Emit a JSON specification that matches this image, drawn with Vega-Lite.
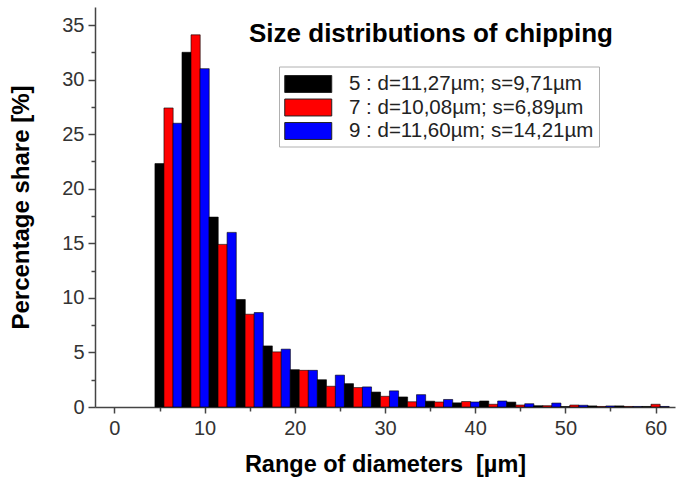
{
  "$schema": "https://vega.github.io/schema/vega-lite/v6.json",
  "width": 580,
  "height": 400,
  "autosize": {"type": "none"},
  "padding": {"left": 95, "top": 7, "right": 2, "bottom": 81},
  "background": "white",
  "config": {"view": {"stroke": null}, "font": "Liberation Sans"},
  "title": {
    "text": "Size distributions of chipping",
    "anchor": "middle",
    "dx": 46,
    "offset": -40,
    "fontSize": 26,
    "fontWeight": "bold",
    "color": "#000000",
    "font": "Liberation Sans"
  },
  "data": {
    "values": [
      {"d": 5, "sample": "5 : d=11,27µm; s=9,71µm", "share": 22.3},
      {"d": 6, "sample": "7 : d=10,08µm; s=6,89µm", "share": 27.4},
      {"d": 7, "sample": "9 : d=11,60µm; s=14,21µm", "share": 26.0},
      {"d": 8, "sample": "5 : d=11,27µm; s=9,71µm", "share": 32.5},
      {"d": 9, "sample": "7 : d=10,08µm; s=6,89µm", "share": 34.1},
      {"d": 10, "sample": "9 : d=11,60µm; s=14,21µm", "share": 31.0},
      {"d": 11, "sample": "5 : d=11,27µm; s=9,71µm", "share": 17.4},
      {"d": 12, "sample": "7 : d=10,08µm; s=6,89µm", "share": 14.9},
      {"d": 13, "sample": "9 : d=11,60µm; s=14,21µm", "share": 16.0},
      {"d": 14, "sample": "5 : d=11,27µm; s=9,71µm", "share": 9.85},
      {"d": 15, "sample": "7 : d=10,08µm; s=6,89µm", "share": 8.5},
      {"d": 16, "sample": "9 : d=11,60µm; s=14,21µm", "share": 8.65},
      {"d": 17, "sample": "5 : d=11,27µm; s=9,71µm", "share": 5.6},
      {"d": 18, "sample": "7 : d=10,08µm; s=6,89µm", "share": 5.05},
      {"d": 19, "sample": "9 : d=11,60µm; s=14,21µm", "share": 5.3},
      {"d": 20, "sample": "5 : d=11,27µm; s=9,71µm", "share": 3.42},
      {"d": 21, "sample": "7 : d=10,08µm; s=6,89µm", "share": 3.36},
      {"d": 22, "sample": "9 : d=11,60µm; s=14,21µm", "share": 3.36},
      {"d": 23, "sample": "5 : d=11,27µm; s=9,71µm", "share": 2.5},
      {"d": 24, "sample": "7 : d=10,08µm; s=6,89µm", "share": 1.9},
      {"d": 25, "sample": "9 : d=11,60µm; s=14,21µm", "share": 2.92},
      {"d": 26, "sample": "5 : d=11,27µm; s=9,71µm", "share": 2.14},
      {"d": 27, "sample": "7 : d=10,08µm; s=6,89µm", "share": 1.78},
      {"d": 28, "sample": "9 : d=11,60µm; s=14,21µm", "share": 1.84},
      {"d": 29, "sample": "5 : d=11,27µm; s=9,71µm", "share": 1.37},
      {"d": 30, "sample": "7 : d=10,08µm; s=6,89µm", "share": 0.98},
      {"d": 31, "sample": "9 : d=11,60µm; s=14,21µm", "share": 1.48},
      {"d": 32, "sample": "5 : d=11,27µm; s=9,71µm", "share": 0.92},
      {"d": 33, "sample": "7 : d=10,08µm; s=6,89µm", "share": 0.48},
      {"d": 34, "sample": "9 : d=11,60µm; s=14,21µm", "share": 1.13},
      {"d": 35, "sample": "5 : d=11,27µm; s=9,71µm", "share": 0.53},
      {"d": 36, "sample": "7 : d=10,08µm; s=6,89µm", "share": 0.46},
      {"d": 37, "sample": "9 : d=11,60µm; s=14,21µm", "share": 0.69},
      {"d": 38, "sample": "5 : d=11,27µm; s=9,71µm", "share": 0.38},
      {"d": 39, "sample": "7 : d=10,08µm; s=6,89µm", "share": 0.5},
      {"d": 40, "sample": "9 : d=11,60µm; s=14,21µm", "share": 0.46},
      {"d": 41, "sample": "5 : d=11,27µm; s=9,71µm", "share": 0.55},
      {"d": 42, "sample": "7 : d=10,08µm; s=6,89µm", "share": 0.25},
      {"d": 43, "sample": "9 : d=11,60µm; s=14,21µm", "share": 0.55},
      {"d": 44, "sample": "5 : d=11,27µm; s=9,71µm", "share": 0.45},
      {"d": 45, "sample": "7 : d=10,08µm; s=6,89µm", "share": 0.18},
      {"d": 46, "sample": "9 : d=11,60µm; s=14,21µm", "share": 0.3},
      {"d": 47, "sample": "5 : d=11,27µm; s=9,71µm", "share": 0.12},
      {"d": 48, "sample": "7 : d=10,08µm; s=6,89µm", "share": 0.12},
      {"d": 49, "sample": "9 : d=11,60µm; s=14,21µm", "share": 0.36},
      {"d": 50, "sample": "5 : d=11,27µm; s=9,71µm", "share": 0.04},
      {"d": 51, "sample": "7 : d=10,08µm; s=6,89µm", "share": 0.18},
      {"d": 52, "sample": "9 : d=11,60µm; s=14,21µm", "share": 0.16},
      {"d": 53, "sample": "5 : d=11,27µm; s=9,71µm", "share": 0.1},
      {"d": 54, "sample": "7 : d=10,08µm; s=6,89µm", "share": 0.05},
      {"d": 55, "sample": "9 : d=11,60µm; s=14,21µm", "share": 0.1},
      {"d": 56, "sample": "5 : d=11,27µm; s=9,71µm", "share": 0.1},
      {"d": 57, "sample": "7 : d=10,08µm; s=6,89µm", "share": 0.05},
      {"d": 58, "sample": "9 : d=11,60µm; s=14,21µm", "share": 0.05},
      {"d": 59, "sample": "5 : d=11,27µm; s=9,71µm", "share": 0.05},
      {"d": 60, "sample": "7 : d=10,08µm; s=6,89µm", "share": 0.25},
      {"d": 61, "sample": "9 : d=11,60µm; s=14,21µm", "share": 0.05}
    ]
  },
  "mark": {"type": "bar", "width": 9.18, "stroke": "#000000", "strokeWidth": 0.6},
  "encoding": {
    "x": {
      "field": "d",
      "type": "quantitative",
      "scale": {"domain": [-1.6, 61.6], "nice": false, "zero": false},
      "axis": {
        "title": "Range of diameters\u00a0 [µm]",
        "titleFontSize": 23.5,
        "titleFontWeight": "bold",
        "titleColor": "#000000",
        "titlePadding": 14,
        "values": [0, 5, 10, 15, 20, 25, 30, 35, 40, 45, 50, 55, 60],
        "labelExpr": "datum.value % 10 === 0 ? datum.label : ''",
        "labelFontSize": 20,
        "labelColor": "#333333",
        "labelPadding": 5,
        "labelFlush": false,
        "tickSize": {"condition": {"test": "datum.value % 10 === 0", "value": 6}, "value": 4},
        "tickColor": "#444444",
        "tickWidth": 1.5,
        "domainColor": "#444444",
        "domainWidth": 1.5,
        "grid": false
      }
    },
    "y": {
      "field": "share",
      "type": "quantitative",
      "scale": {"domain": [0, 36.65], "nice": false},
      "axis": {
        "title": "Percentage share [%]",
        "titleFontSize": 24,
        "titleFontWeight": "bold",
        "titleColor": "#000000",
        "titlePadding": 28,
        "values": [0, 2.5, 5, 7.5, 10, 12.5, 15, 17.5, 20, 22.5, 25, 27.5, 30, 32.5, 35],
        "labelExpr": "datum.value % 5 === 0 ? datum.label : ''",
        "labelFontSize": 20,
        "labelColor": "#333333",
        "labelPadding": 4,
        "tickSize": {"condition": {"test": "datum.value % 5 === 0", "value": 7}, "value": 4},
        "tickColor": "#444444",
        "tickWidth": 1.5,
        "domainColor": "#444444",
        "domainWidth": 1.5,
        "grid": false
      }
    },
    "color": {
      "field": "sample",
      "type": "nominal",
      "scale": {"range": ["#000000", "#ff0000", "#0000ff"]},
      "legend": {
        "title": null,
        "orient": "none",
        "legendX": 184,
        "legendY": 59.5,
        "symbolType": "M-1,-0.72H3V0.72H-1Z",
        "symbolSize": 552,
        "symbolStrokeColor": "#222222",
        "symbolStrokeWidth": 1,
        "symbolOpacity": 1,
        "labelFontSize": 20.5,
        "labelColor": "#222222",
        "labelFont": "Liberation Sans",
        "labelOffset": 40,
        "labelLimit": 400,
        "rowPadding": 0.5,
        "padding": 5,
        "strokeColor": "#b0b0b0",
        "fillColor": "#ffffff"
      }
    }
  }
}
